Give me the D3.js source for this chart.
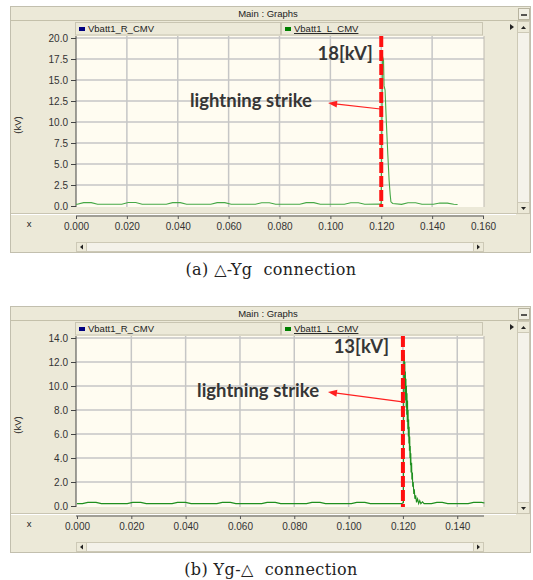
<!DOCTYPE html>
<html>
<head>
<meta charset="utf-8">
<script src="https://cdn.jsdelivr.net/npm/d3@7"></script>
<style>
  body { margin: 0; background: #fff; }
  svg { display: block; }
  .tick text { font-family: "Liberation Sans", Arial, sans-serif; font-size: 10px; fill: #333; }
  .ui { font-family: "Liberation Sans", Arial, sans-serif; font-size: 9.5px; fill: #222; }
  .note { font-family: Lato, "Open Sans", sans-serif; font-weight: bold; fill: #363636; }
  .cap { font-family: "DejaVu Serif", serif; font-size: 16px; fill: #222; white-space: pre; letter-spacing: 0.4px; }
</style>
</head>
<body>
<svg width="533" height="580"></svg>
<script>
// panel (a)  delta-Yg : time (s) / voltage (kV)
var aTime = [0, 0.0005, 0.003, 0.006, 0.0085, 0.018, 0.0205, 0.0235, 0.026, 0.0355, 0.038, 0.041, 0.0435,
  0.053, 0.0555, 0.0585, 0.061, 0.0705, 0.073, 0.076, 0.0785, 0.088, 0.0905, 0.0935, 0.096,
  0.1055, 0.108, 0.111, 0.1135, 0.1195, 0.1200, 0.1205, 0.1209, 0.1211, 0.1215, 0.1220, 0.1226,
  0.1231, 0.1235, 0.1238, 0.1245, 0.128, 0.1305, 0.1335, 0.136, 0.1405, 0.143, 0.146, 0.1485, 0.150];
var aVolt = [0.2, 0.2, 0.4, 0.4, 0.2, 0.2, 0.41, 0.41, 0.2, 0.2, 0.4, 0.4, 0.2,
  0.2, 0.4, 0.4, 0.2, 0.2, 0.39, 0.39, 0.2, 0.2, 0.4, 0.4, 0.2,
  0.2, 0.38, 0.38, 0.2, 0.22, 0.3, 17.8, 17.3, 14.3, 13.8, 10.0, 6.0,
  3.0, 1.4, 0.5, 0.3, 0.2, 0.38, 0.38, 0.2, 0.2, 0.36, 0.34, 0.2, 0.18];

// panel (b)  Yg-delta
var bTime = [0, 0.002, 0.004, 0.007, 0.009, 0.0185, 0.0205, 0.0235, 0.0255, 0.035, 0.037, 0.040, 0.042,
  0.0515, 0.0535, 0.0565, 0.0585, 0.068, 0.070, 0.073, 0.075, 0.0845, 0.0865, 0.0895, 0.0915,
  0.101, 0.103, 0.106, 0.108, 0.1195, 0.1202,
  0.1203, 0.1204, 0.1205, 0.1206, 0.1207, 0.1208, 0.1209, 0.1210, 0.1211, 0.1212, 0.1213, 0.1214,
  0.1215, 0.1216, 0.1217, 0.1218, 0.1219, 0.1220, 0.1221, 0.1222, 0.1223, 0.1224, 0.1225, 0.1226,
  0.1227, 0.1228, 0.1229, 0.1230, 0.1232, 0.1233, 0.1235, 0.1236, 0.1238, 0.1240, 0.1242, 0.1244,
  0.1247, 0.1250, 0.1254, 0.1258, 0.1262, 0.1266, 0.1272, 0.1278,
  0.1305, 0.1325, 0.1345, 0.1365, 0.144, 0.146, 0.149, 0.150];
var bVolt = [0.2, 0.2, 0.3, 0.3, 0.2, 0.2, 0.3, 0.3, 0.2, 0.2, 0.3, 0.3, 0.2,
  0.2, 0.3, 0.3, 0.2, 0.2, 0.3, 0.3, 0.2, 0.2, 0.3, 0.3, 0.2,
  0.2, 0.3, 0.3, 0.2, 0.2, 0.3,
  13.0, 10.5, 12.6, 10.0, 12.0, 9.4, 11.2, 8.8, 10.6, 8.2, 10.0, 7.6,
  9.4, 7.0, 8.8, 6.4, 8.0, 5.8, 7.2, 5.2, 6.6, 4.6, 5.8, 4.0,
  5.0, 3.4, 4.4, 2.8, 3.6, 2.2, 2.8, 1.6, 2.0, 1.0, 1.4, 0.6,
  0.9, 0.3, 0.6, 0.2, 0.45, 0.2, 0.35, 0.2,
  0.2, 0.3, 0.3, 0.2, 0.2, 0.3, 0.3, 0.25];

var aTicksY = [0, 2.5, 5, 7.5, 10, 12.5, 15, 17.5, 20];
var bTicksY = [0, 2, 4, 6, 8, 10, 12, 14];
var aTicksX = [0, 0.02, 0.04, 0.06, 0.08, 0.10, 0.12, 0.14, 0.16];
var bTicksX = [0, 0.02, 0.04, 0.06, 0.08, 0.10, 0.12, 0.14];

var legendNames = ["Vbatt1_R_CMV", "Vbatt1_L_CMV"];
var legendColors = ["#000080", "#008000"];

var svg = d3.select("svg");
svg.append("rect").attr("width", 533).attr("height", 580).attr("fill", "#fff");

function panel(o) {
  var oy = o.oy;
  var g = svg.append("g");
  var x = d3.scaleLinear().domain(o.xDom).range(o.xRange);
  var y = d3.scaleLinear().domain(o.yDom).range([oy + 206, oy + 38]);

  // window
  g.append("rect").attr("x", 10.5).attr("y", oy + 6.5).attr("width", 520).attr("height", 246)
    .attr("fill", "#ece9d8").attr("stroke", "#c2bfae");
  g.append("line").attr("x1", 11).attr("x2", 530).attr("y1", oy + 20.5).attr("y2", oy + 20.5).attr("stroke", "#c4c0aa");
  g.append("text").attr("class", "ui").attr("x", 268).attr("y", oy + 17).attr("text-anchor", "middle").text("Main : Graphs");
  g.append("rect").attr("x", 518.5).attr("y", oy + 8.5).attr("width", 11).attr("height", 11)
    .attr("fill", "#f1efe4").attr("stroke", "#b8b4a0");
  g.append("line").attr("x1", 521).attr("x2", 527).attr("y1", oy + 15).attr("y2", oy + 15).attr("stroke", "#222").attr("stroke-width", 1.5);

  // legend bar
  var cells = [[75, 281], [281, 483]];
  cells.forEach(function (c, i) {
    g.append("rect").attr("x", c[0] + 0.5).attr("y", oy + 22.5).attr("width", c[1] - c[0] - 1).attr("height", 12.5)
      .attr("fill", "#ece9d8").attr("stroke", "#c9c5b2");
    g.append("rect").attr("x", c[0] + 4).attr("y", oy + 27).attr("width", 6).attr("height", 4).attr("fill", legendColors[i]);
    var t = g.append("text").attr("class", "ui").attr("x", c[0] + 13).attr("y", oy + 32).text(legendNames[i]);
    if (i == 1) t.attr("text-decoration", "underline");
  });
  g.append("path").attr("d", "M510," + (oy + 24) + "l4,3l-4,3z").attr("fill", "#222");

  // right scroll column
  g.append("rect").attr("x", 517.5).attr("y", oy + 21.5).attr("width", 12).attr("height", 192)
    .attr("fill", "#f4f2ea").attr("stroke", "#cdc9b6");
  g.append("rect").attr("x", 517.5).attr("y", oy + 21.5).attr("width", 12).attr("height", 11).attr("fill", "#ece9d8").attr("stroke", "#cdc9b6");
  g.append("rect").attr("x", 517.5).attr("y", oy + 202.5).attr("width", 12).attr("height", 11).attr("fill", "#ece9d8").attr("stroke", "#cdc9b6");
  g.append("path").attr("d", "M521," + (oy + 29) + "l2.5,-3l2.5,3z").attr("fill", "#222");
  g.append("path").attr("d", "M521," + (oy + 207) + "l2.5,3l2.5,-3z").attr("fill", "#222");

  // plot area
  g.append("rect").attr("x", 76).attr("y", oy + 36).attr("width", 408).attr("height", 171).attr("fill", "#fffcf1");

  var gridX = o.ticksX.filter(function (d) { return x(d) > 77 && x(d) < 482; });
  g.selectAll(null).data(gridX).enter().append("line")
    .attr("x1", x).attr("x2", x).attr("y1", oy + 36).attr("y2", oy + 207)
    .attr("stroke", "#c6c6c6").attr("stroke-width", 1.5);
  g.selectAll(null).data(o.ticksY.slice(1)).enter().append("line")
    .attr("x1", 76).attr("x2", 484).attr("y1", y).attr("y2", y)
    .attr("stroke", "#c6c6c6").attr("stroke-width", 1.5);
  g.append("line").attr("x1", 484).attr("x2", 484).attr("y1", oy + 36).attr("y2", oy + 207).attr("stroke", "#bdbab0");

  // y axis
  var ya = g.append("g").attr("transform", "translate(76,0)")
    .call(d3.axisLeft(y).tickValues(o.ticksY).tickFormat(d3.format(".1f")).tickSize(5).tickPadding(3));
  ya.select(".domain").attr("stroke", "#444").attr("d", "M0," + (oy + 36) + "V" + (oy + 207));
  ya.selectAll(".tick line").attr("stroke", "#444");
  g.append("text").attr("class", "ui").attr("font-size", 10)
    .attr("transform", "translate(21," + (oy + 125) + ") rotate(-90)").attr("text-anchor", "middle").text("(kV)");

  // strip below plot
  g.append("line").attr("x1", 11).attr("x2", 530).attr("y1", oy + 213.5).attr("y2", oy + 213.5).attr("stroke", "#c9c5b2");
  g.append("line").attr("x1", 11).attr("x2", 516).attr("y1", oy + 214.5).attr("y2", oy + 214.5).attr("stroke", "#fff");
  var xa = g.append("g").attr("transform", "translate(0," + (oy + 216) + ")")
    .call(d3.axisBottom(x).tickValues(o.ticksX).tickFormat(d3.format(".3f")).tickSize(3).tickPadding(4));
  xa.select(".domain").attr("stroke", "#555").attr("d", "M76,0H484");
  xa.selectAll(".tick line").attr("stroke", "#555");
  g.append("text").attr("class", "ui").attr("x", 29).attr("y", oy + 227).attr("text-anchor", "middle").text("x");

  // horizontal scrollbar
  g.append("rect").attr("x", 76.5).attr("y", oy + 242.5).attr("width", 407).attr("height", 9)
    .attr("fill", "#f4f2ea").attr("stroke", "#cdc9b6");
  g.append("rect").attr("x", 76.5).attr("y", oy + 242.5).attr("width", 10).attr("height", 9).attr("fill", "#ece9d8").attr("stroke", "#cdc9b6");
  g.append("rect").attr("x", 473.5).attr("y", oy + 242.5).attr("width", 10).attr("height", 9).attr("fill", "#ece9d8").attr("stroke", "#cdc9b6");
  g.append("path").attr("d", "M83," + (oy + 244.5) + "l-3,2.5l3,2.5z").attr("fill", "#222");
  g.append("path").attr("d", "M477," + (oy + 244.5) + "l3,2.5l-3,2.5z").attr("fill", "#222");

  // series
  var line = d3.line().x(function (d) { return x(d[0]); }).y(function (d) { return y(d[1]); });
  var pts = d3.zip(o.time, o.volt);
  g.append("path").datum(pts).attr("d", line).attr("fill", "none")
    .attr("stroke", o.lineColor).attr("stroke-width", o.lineWidth);

  // strike marker
  g.append("line").attr("x1", x(0.12)).attr("x2", x(0.12)).attr("y1", oy + 36).attr("y2", oy + 207)
    .attr("stroke", "#ff1010").attr("stroke-width", 4).attr("stroke-dasharray", "11,3");

  // annotations
  g.append("text").attr("class", "note").attr("font-size", 18.5)
    .attr("x", x(o.peakAt[0])).attr("y", y(o.peakAt[1])).attr("text-anchor", "end").text(o.peakLabel);
  g.append("text").attr("class", "note").attr("font-size", 18.5)
    .attr("x", x(o.labelAt[0])).attr("y", y(o.labelAt[1])).text("lightning strike");
  var x1 = x(o.arrow[0][0]), y1 = y(o.arrow[0][1]), x2 = x(o.arrow[1][0]), y2 = y(o.arrow[1][1]);
  var ang = Math.atan2(y2 - y1, x2 - x1);
  g.append("line").attr("x1", x1).attr("y1", y1).attr("x2", x2 - 7 * Math.cos(ang)).attr("y2", y2 - 7 * Math.sin(ang))
    .attr("stroke", "#ff2020").attr("stroke-width", 1.2);
  g.append("path").attr("transform", "translate(" + x2 + "," + y2 + ") rotate(" + (ang * 180 / Math.PI) + ")")
    .attr("d", "M0,0L-9,-3.5L-9,3.5z").attr("fill", "#ff2020");

  // caption
  g.append("text").attr("class", "cap").attr("x", 271).attr("y", oy + 275).attr("text-anchor", "middle").text(o.caption);
}

panel({
  oy: 0, xDom: [0, 0.16], xRange: [76, 483], yDom: [0, 20],
  ticksX: aTicksX, ticksY: aTicksY, time: aTime, volt: aVolt,
  lineColor: "#46a846", lineWidth: 1.1,
  peakLabel: "18[kV]", peakAt: [0.1167, 17.4], labelAt: [0.0448, 11.8],
  arrow: [[0.1197, 11.55], [0.0991, 12.25]],
  caption: "(a) \u25B3-Yg  connection"
});
panel({
  oy: 300, xDom: [0, 0.15], xRange: [77, 484.4], yDom: [0, 14],
  ticksX: bTicksX, ticksY: bTicksY, time: bTime, volt: bVolt,
  lineColor: "#1f8f1f", lineWidth: 1.1,
  peakLabel: "13[kV]", peakAt: [0.1149, 12.75], labelAt: [0.0442, 9.08],
  arrow: [[0.1199, 8.67], [0.0924, 9.5]],
  caption: "(b) Yg-\u25B3  connection"
});
</script>
</body>
</html>
